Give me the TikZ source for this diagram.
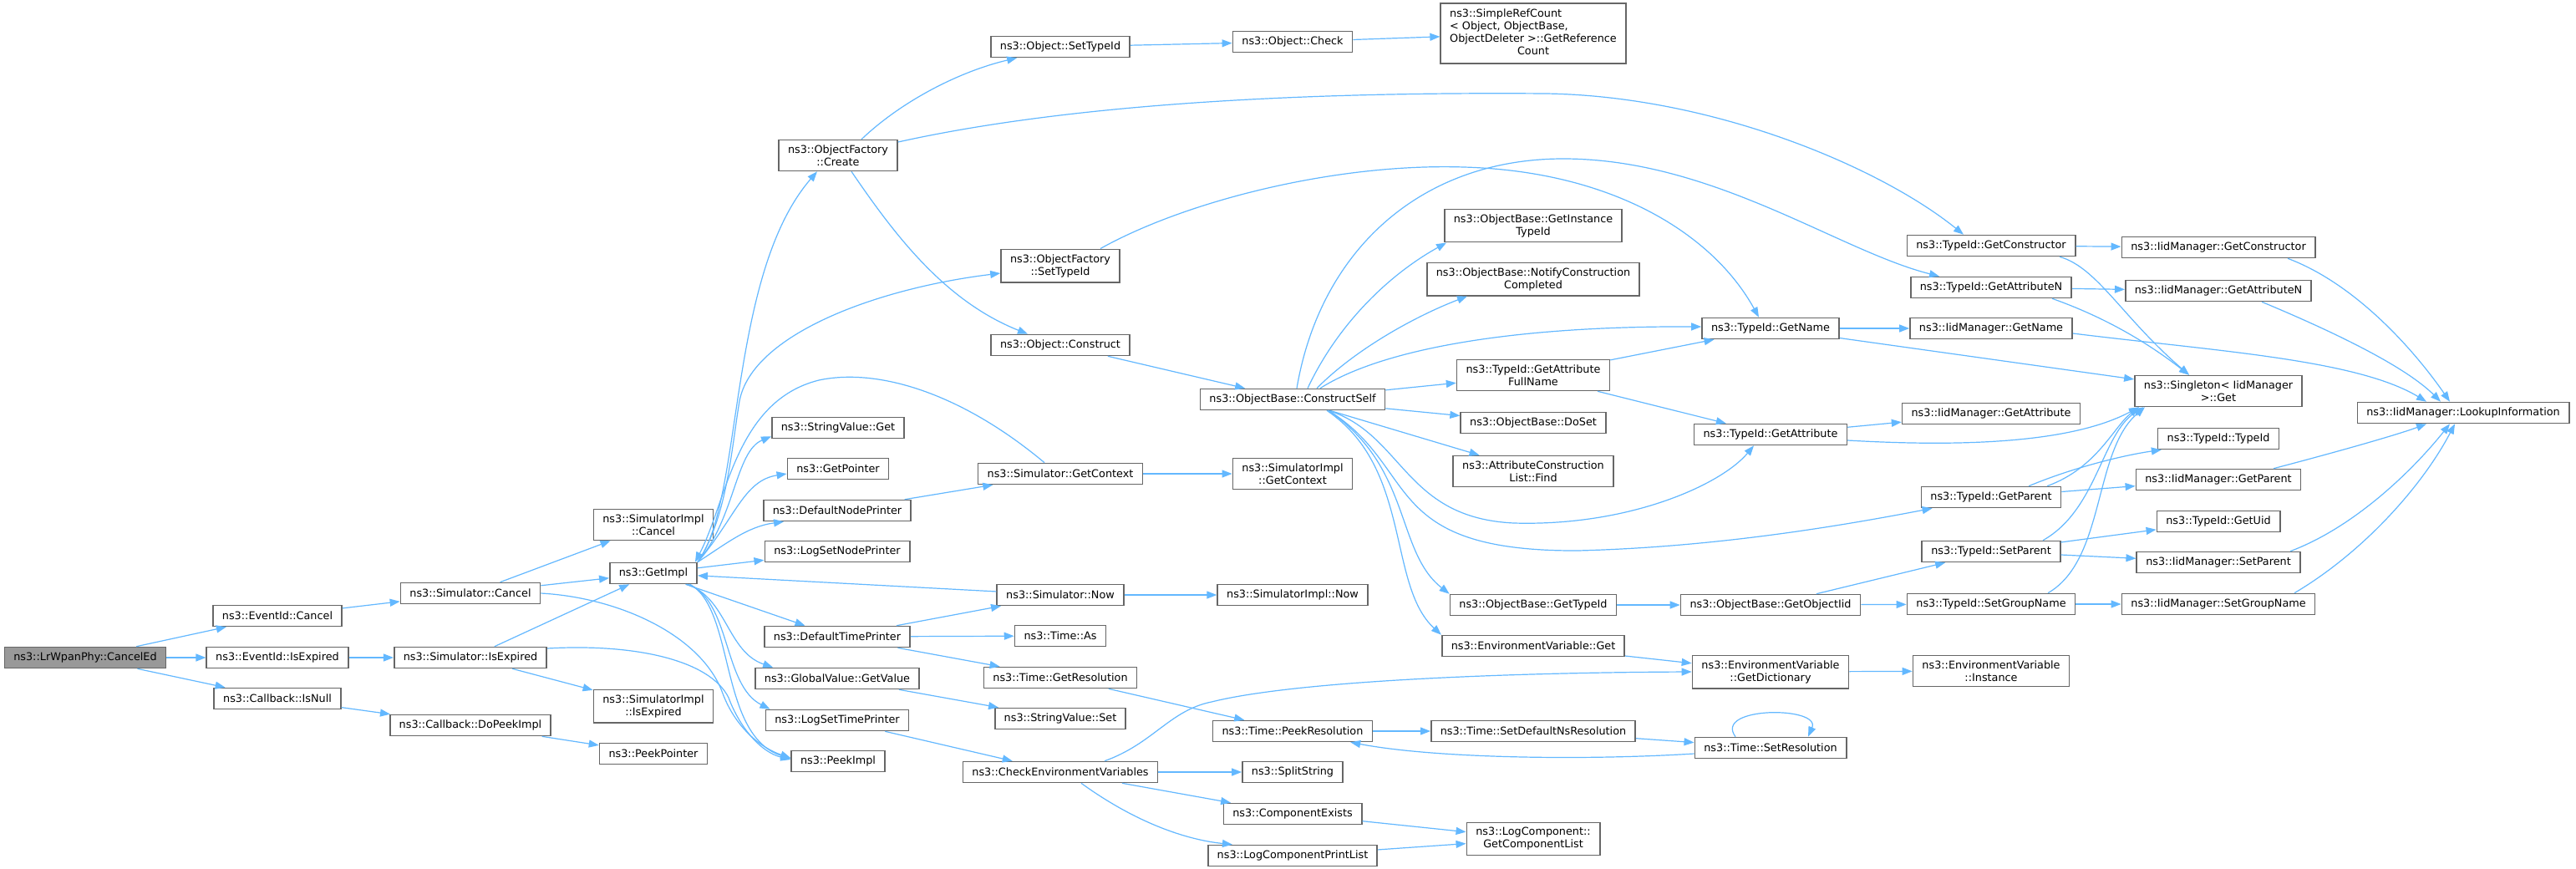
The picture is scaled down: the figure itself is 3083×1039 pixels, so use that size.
\documentclass[tikz,border=0pt]{standalone}
\usepackage{fontspec}
\setmainfont{DejaVu Sans}
\usetikzlibrary{arrows.meta}
\definecolor{xblue}{HTML}{63B8FF}
\definecolor{xgray}{HTML}{666666}
\definecolor{xfill}{HTML}{999999}
\tikzset{
	fn/.style={draw=xgray, line width=1.6pt, fill=white, inner xsep=11pt, inner ysep=6pt, minimum height=25pt, align=center, font=\fontsize{12.8}{15}\selectfont},
	fnmain/.style={fn, fill=xfill},
	arrow/.style={line width=1.2pt, draw=xblue, -{Triangle[length=12pt, width=9pt]}},
}

\begin{document}
\begin{tikzpicture}[x=1pt, y=-1pt]
	\useasboundingbox[fill=white] (0,0) rectangle (3083,1039);

	\node[fnmain] (cancelEd) at (102,787) {ns3::LrWpanPhy::CancelEd};
	\node[fn] (evCancel) at (332,737) {ns3::EventId::Cancel};
	\node[fn] (evExpired) at (332,787) {ns3::EventId::IsExpired};
	\node[fn] (cbIsNull) at (332,836) {ns3::Callback::IsNull};
	\node[fn] (simCancel) at (563,710) {ns3::Simulator::Cancel};
	\node[fn] (simExpired) at (563,787) {ns3::Simulator::IsExpired};
	\node[fn] (cbDoPeek) at (563,868) {ns3::Callback::DoPeekImpl};
	\node[fn] (simImplCancel) at (782,628) {ns3::SimulatorImpl\\::Cancel};
	\node[fn] (getImpl) at (782,686) {ns3::GetImpl};
	\node[fn] (simImplExpired) at (782,845) {ns3::SimulatorImpl\\::IsExpired};
	\node[fn] (peekPointer) at (782,902) {ns3::PeekPointer};

	\node[fn] (ofCreate) at (1003,186) {ns3::ObjectFactory\\::Create};
	\node[fn] (strGet) at (1003,512) {ns3::StringValue::Get};
	\node[fn] (getPointer) at (1003,561) {ns3::GetPointer};
	\node[fn] (defNodePrinter) at (1002,611) {ns3::DefaultNodePrinter};
	\node[fn] (logSetNodePrinter) at (1002,660) {ns3::LogSetNodePrinter};
	\node[fn] (defTimePrinter) at (1002,762) {ns3::DefaultTimePrinter};
	\node[fn] (gvGetValue) at (1002,812) {ns3::GlobalValue::GetValue};
	\node[fn] (logSetTimePrinter) at (1002,862) {ns3::LogSetTimePrinter};
	\node[fn] (peekImpl) at (1003,911) {ns3::PeekImpl};

	\node[fn] (objSetTypeId) at (1269,56) {ns3::Object::SetTypeId};
	\node[fn] (ofSetTypeId) at (1269,318) {ns3::ObjectFactory\\::SetTypeId};
	\node[fn] (objConstruct) at (1269,413) {ns3::Object::Construct};
	\node[fn] (simGetContext) at (1269,567) {ns3::Simulator::GetContext};
	\node[fn] (simNow) at (1269,712) {ns3::Simulator::Now};
	\node[fn] (timeAs) at (1269,761) {ns3::Time::As};
	\node[fn] (timeGetRes) at (1269,811) {ns3::Time::GetResolution};
	\node[fn] (strSet) at (1269,860) {ns3::StringValue::Set};
	\node[fn] (checkEnv) at (1269,924) {ns3::CheckEnvironmentVariables};

	\node[fn] (objCheck) at (1547,50) {ns3::Object::Check};
	\node[fn] (constructSelf) at (1547,478) {ns3::ObjectBase::ConstructSelf};
	\node[fn] (simImplGetContext) at (1547,567) {ns3::SimulatorImpl\\::GetContext};
	\node[fn] (simImplNow) at (1547,712) {ns3::SimulatorImpl::Now};
	\node[fn] (timePeekRes) at (1547,875) {ns3::Time::PeekResolution};
	\node[fn] (splitString) at (1547,924) {ns3::SplitString};
	\node[fn] (compExists) at (1547,974) {ns3::ComponentExists};
	\node[fn] (logCompPrint) at (1547,1024) {ns3::LogComponentPrintList};

	\node[fn] (simpleRef) at (1835,40) {\begin{tabular}{@{}l@{}}ns3::SimpleRefCount\\< Object, ObjectBase,\\ ObjectDeleter >::GetReference\\\multicolumn{1}{@{}c@{}}{Count}\end{tabular}};
	\node[fn] (getInstTypeId) at (1835,270) {ns3::ObjectBase::GetInstance\\TypeId};
	\node[fn] (notifyCC) at (1835,334) {ns3::ObjectBase::NotifyConstruction\\Completed};
	\node[fn] (getAttrFullName) at (1835,449) {ns3::TypeId::GetAttribute\\FullName};
	\node[fn] (doSet) at (1835,506) {ns3::ObjectBase::DoSet};
	\node[fn] (acListFind) at (1835,564) {ns3::AttributeConstruction\\List::Find};
	\node[fn] (obGetTypeId) at (1835,724) {ns3::ObjectBase::GetTypeId};
	\node[fn] (envGet) at (1835,773) {ns3::EnvironmentVariable::Get};
	\node[fn] (setDefNsRes) at (1835,875) {ns3::Time::SetDefaultNsResolution};
	\node[fn] (logCompList) at (1835,1004) {ns3::LogComponent::\\GetComponentList};

	\node[fn] (tidGetName) at (2119,393) {ns3::TypeId::GetName};
	\node[fn] (tidGetAttr) at (2119,520) {ns3::TypeId::GetAttribute};
	\node[fn] (getObjectIid) at (2119,724) {ns3::ObjectBase::GetObjectIid};
	\node[fn] (envGetDict) at (2119,804) {ns3::EnvironmentVariable\\::GetDictionary};
	\node[fn] (timeSetRes) at (2119,895) {ns3::Time::SetResolution};

	\node[fn] (tidGetCtor) at (2383,294) {ns3::TypeId::GetConstructor};
	\node[fn] (tidGetAttrN) at (2383,344) {ns3::TypeId::GetAttributeN};
	\node[fn] (iidGetName) at (2383,393) {ns3::IidManager::GetName};
	\node[fn] (iidGetAttr) at (2383,495) {ns3::IidManager::GetAttribute};
	\node[fn] (tidGetParent) at (2383,595) {ns3::TypeId::GetParent};
	\node[fn] (tidSetParent) at (2383,660) {ns3::TypeId::SetParent};
	\node[fn] (tidSetGroup) at (2383,723) {ns3::TypeId::SetGroupName};
	\node[fn] (envInstance) at (2383,803) {ns3::EnvironmentVariable\\::Instance};

	\node[fn] (iidGetCtor) at (2655,296) {ns3::IidManager::GetConstructor};
	\node[fn] (iidGetAttrN) at (2655,348) {ns3::IidManager::GetAttributeN};
	\node[fn] (singletonGet) at (2655,468) {ns3::Singleton< IidManager\\ >::Get};
	\node[fn] (tidTypeId) at (2655,525) {ns3::TypeId::TypeId};
	\node[fn] (iidGetParent) at (2655,574) {ns3::IidManager::GetParent};
	\node[fn] (tidGetUid) at (2655,624) {ns3::TypeId::GetUid};
	\node[fn] (iidSetParent) at (2655,673) {ns3::IidManager::SetParent};
	\node[fn] (iidSetGroup) at (2655,723) {ns3::IidManager::SetGroupName};

	\node[fn] (lookupInfo) at (2948,494) {ns3::IidManager::LookupInformation};

	\draw[arrow] (cancelEd) -- (evCancel);
	\draw[arrow] (cancelEd) -- (evExpired);
	\draw[arrow] (cancelEd) -- (cbIsNull);
	\draw[arrow] (evCancel) -- (simCancel);
	\draw[arrow] (evExpired) -- (simExpired);
	\draw[arrow] (cbIsNull) -- (cbDoPeek);
	\draw[arrow] (simCancel) -- (simImplCancel);
	\draw[arrow] (simCancel) -- (getImpl);
	\draw[arrow] (simExpired) -- (getImpl);
	\draw[arrow] (simExpired) -- (simImplExpired);
	\draw[arrow] (cbDoPeek) -- (peekPointer);
	\draw[arrow] (simCancel.east) .. controls (740,715) and (840,760) .. (865,830) .. controls (880,870) and (910,895) .. ([yshift=4pt]peekImpl.west);
	\draw[arrow] ([yshift=11pt]simExpired.east) .. controls (760,770) and (850,790) .. (872,835) .. controls (885,870) and (910,900) .. ([yshift=2pt]peekImpl.west);

	\draw[arrow] (getImpl.north east) .. controls (890,600) and (870,330) .. ([xshift=-25pt]ofCreate.south);
	\draw[arrow] (getImpl.north east) .. controls (870,620) and (875,540) .. (885,480) .. controls (900,400) and (1050,345) .. ([yshift=-9pt]ofSetTypeId.west);
	\draw[arrow] (getImpl.north east) .. controls (880,620) and (880,540) .. ([yshift=3pt]strGet.south west);
	\draw[arrow] (getImpl.north east) .. controls (880,620) and (890,575) .. ([yshift=-6pt]getPointer.west);
	\draw[arrow] (getImpl.north east) .. controls (870,650) and (895,630) .. ([xshift=25pt]defNodePrinter.south west);
	\draw[arrow] (getImpl) -- (logSetNodePrinter);
	\draw[arrow] (getImpl) -- (defTimePrinter);
	\draw[arrow] ([xshift=-13pt]getImpl.south east) .. controls (870,715) and (870,780) .. ([xshift=22pt]gvGetValue.north west);
	\draw[arrow] ([xshift=-11pt]getImpl.south east) .. controls (875,720) and (865,820) .. ([xshift=6pt]logSetTimePrinter.north west);
	\draw[arrow] ([xshift=-9pt]getImpl.south east) .. controls (880,730) and (860,880) .. ([yshift=3pt]peekImpl.west);
	\draw[arrow] ([xshift=-19pt]simGetContext.north) .. controls (1150,470) and (1050,440) .. (980,455) .. controls (880,480) and (870,600) .. ([xshift=-3pt]getImpl.north east);
	\draw[arrow] (simNow) -- (getImpl);

	\draw[arrow] (defNodePrinter) -- (simGetContext);
	\draw[arrow] (defTimePrinter) -- (simNow);
	\draw[arrow] (defTimePrinter) -- (timeAs);
	\draw[arrow] (defTimePrinter) -- (timeGetRes);
	\draw[arrow] (gvGetValue) -- (strSet);
	\draw[arrow] (logSetTimePrinter) -- (checkEnv);
	\draw[arrow] (simGetContext) -- (simImplGetContext);
	\draw[arrow] (simNow) -- (simImplNow);
	\draw[arrow] (timeGetRes) -- (timePeekRes);
	\draw[arrow] ([xshift=53pt]checkEnv.north) .. controls (1380,890) and (1400,850) .. (1450,840) .. controls (1550,815) and (1800,805) .. (envGetDict.west);
	\draw[arrow] (checkEnv) -- (splitString);
	\draw[arrow] (checkEnv) -- (compExists);
	\draw[arrow] ([xshift=25pt]checkEnv.south) .. controls (1360,985) and (1420,1005) .. ([xshift=30pt]logCompPrint.north west);
	\draw[arrow] (compExists) -- (logCompList);
	\draw[arrow] (logCompPrint) -- (logCompList);
	\draw[arrow] (timePeekRes) -- (setDefNsRes);
	\draw[arrow] (setDefNsRes) -- (timeSetRes);
	\draw[arrow] ([yshift=-7pt]timeSetRes.west) .. controls (1900,910) and (1720,908) .. ([xshift=-27pt]timePeekRes.south east);
	\draw[arrow] ([xshift=-42pt]timeSetRes.north) .. controls (2050,845) and (2180,845) .. ([xshift=45pt]timeSetRes.north);
	\draw[arrow] (envGet) -- (envGetDict);
	\draw[arrow] (envGetDict) -- (envInstance);

	\draw[arrow] ([xshift=28pt]ofCreate.north) .. controls (1080,120) and (1150,85) .. ([xshift=32pt]objSetTypeId.south west);
	\draw[arrow] ([yshift=16pt]ofCreate.east) .. controls (1300,120) and (1600,110) .. (1850,112) .. controls (2050,115) and (2250,200) .. ([xshift=-33pt]tidGetCtor.north);
	\draw[arrow] ([xshift=16pt]ofCreate.south) .. controls (1070,280) and (1130,360) .. ([xshift=-39pt]objConstruct.north);
	\draw[arrow] ([xshift=48pt]ofSetTypeId.north) .. controls (1420,240) and (1600,195) .. (1752,200) .. controls (1930,205) and (2050,280) .. ([xshift=-14pt]tidGetName.north);
	\draw[arrow] (objSetTypeId) -- (objCheck);
	\draw[arrow] (objCheck) -- (simpleRef);
	\draw[arrow] (objConstruct) -- (constructSelf);

	\draw[arrow] ([xshift=18pt]constructSelf.north) .. controls (1600,390) and (1660,330) .. ([xshift=3pt]getInstTypeId.south west);
	\draw[arrow] ([xshift=29pt]constructSelf.north) .. controls (1620,420) and (1690,380) .. ([xshift=49pt]notifyCC.south west);
	\draw[arrow] ([xshift=33pt]constructSelf.north) .. controls (1650,420) and (1800,390) .. ([yshift=2pt]tidGetName.west);
	\draw[arrow] ([xshift=5pt]constructSelf.north) .. controls (1580,300) and (1700,190) .. (1871,190) .. controls (2050,190) and (2200,300) .. ([xshift=-62pt]tidGetAttrN.north);
	\draw[arrow] (constructSelf) -- (getAttrFullName);
	\draw[arrow] (constructSelf) -- (doSet);
	\draw[arrow] (constructSelf) -- (acListFind);
	\draw[arrow] ([xshift=43pt]constructSelf.south) .. controls (1680,520) and (1680,620) .. (1812,626) .. controls (1950,630) and (2060,580) .. ([xshift=-20pt]tidGetAttr.south);
	\draw[arrow] ([xshift=43pt]constructSelf.south) .. controls (1700,560) and (1650,660) .. (1888,659) .. controls (2050,655) and (2200,630) .. ([xshift=14pt]tidGetParent.south west);
	\draw[arrow] ([xshift=43pt]constructSelf.south) .. controls (1690,560) and (1670,660) .. (obGetTypeId.north west);
	\draw[arrow] ([xshift=41pt]constructSelf.south) .. controls (1690,560) and (1660,700) .. (envGet.north west);
	\draw[arrow] (getAttrFullName) -- (tidGetName);
	\draw[arrow] (getAttrFullName) -- (tidGetAttr);
	\draw[arrow] (obGetTypeId) -- (getObjectIid);

	\draw[arrow] (tidGetName) -- (iidGetName);
	\draw[arrow] (tidGetName) -- (singletonGet);
	\draw[arrow] (tidGetCtor) -- (iidGetCtor);
	\draw[arrow] ([xshift=82pt]tidGetCtor.south) .. controls (2510,320) and (2540,380) .. ([xshift=-35pt]singletonGet.north);
	\draw[arrow] (tidGetAttrN) -- (iidGetAttrN);
	\draw[arrow] ([xshift=73pt]tidGetAttrN.south) .. controls (2520,380) and (2570,410) .. ([xshift=-35pt]singletonGet.north);
	\draw[arrow] (tidGetAttr) -- (iidGetAttr);
	\draw[arrow] ([yshift=-7pt]tidGetAttr.east) .. controls (2350,535) and (2480,530) .. ([xshift=-95pt]singletonGet.south);
	\draw[arrow] ([xshift=45pt]tidGetParent.north) .. controls (2480,560) and (2540,545) .. ([xshift=5pt]tidTypeId.south west);
	\draw[arrow] (tidGetParent) -- (iidGetParent);
	\draw[arrow] ([xshift=67pt]tidGetParent.north) .. controls (2510,560) and (2530,510) .. ([xshift=-95pt]singletonGet.south);
	\draw[arrow] (getObjectIid) -- (tidSetParent);
	\draw[arrow] (getObjectIid) -- (tidSetGroup);
	\draw[arrow] (tidSetParent) -- (tidGetUid);
	\draw[arrow] (tidSetParent) -- (iidSetParent);
	\draw[arrow] ([xshift=62pt]tidSetParent.north) .. controls (2510,610) and (2515,520) .. ([xshift=-90pt]singletonGet.south);
	\draw[arrow] (tidSetGroup) -- (iidSetGroup);
	\draw[arrow] ([xshift=68pt]tidSetGroup.north) .. controls (2520,670) and (2505,540) .. ([xshift=-88pt]singletonGet.south);

	\draw[arrow] ([xshift=83pt]iidGetCtor.south) .. controls (2820,340) and (2890,420) .. ([xshift=-16pt]lookupInfo.north);
	\draw[arrow] ([xshift=52pt]iidGetAttrN.south) .. controls (2800,400) and (2880,440) .. ([xshift=-27pt]lookupInfo.north);
	\draw[arrow] ([yshift=-6pt]iidGetName.east) .. controls (2650,420) and (2820,430) .. ([xshift=-44pt]lookupInfo.north);
	\draw[arrow] ([xshift=66pt]iidGetParent.north) .. controls (2800,540) and (2870,520) .. ([xshift=-44pt]lookupInfo.south);
	\draw[arrow] ([xshift=86pt]iidSetParent.north) .. controls (2820,630) and (2890,560) .. ([xshift=-16pt]lookupInfo.south);
	\draw[arrow] ([xshift=91pt]iidSetGroup.north) .. controls (2830,660) and (2900,580) .. ([xshift=-10pt]lookupInfo.south);
\end{tikzpicture}
\end{document}
